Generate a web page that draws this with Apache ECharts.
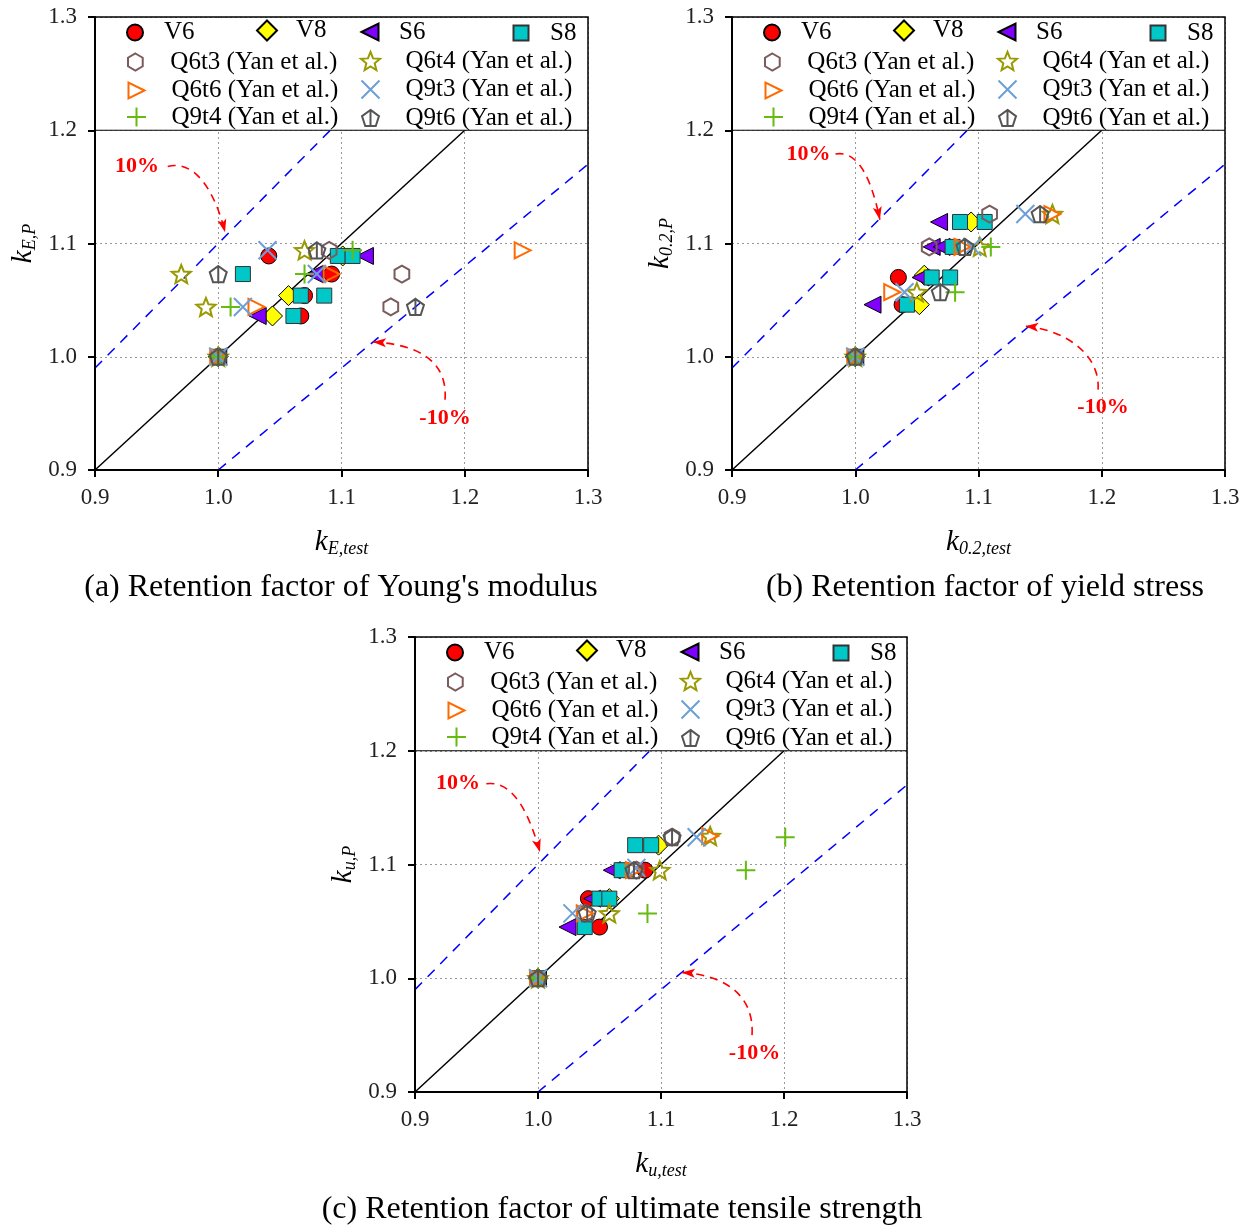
<!DOCTYPE html>
<html><head><meta charset="utf-8">
<script src="https://cdn.jsdelivr.net/npm/echarts@6/dist/echarts.min.js"></script>
<style>html,body{margin:0;padding:0;background:#fff}#c{width:1253px;height:1228px}</style>
</head><body><div id="c"></div>
<script>
// ---------------- data ----------------
const seriesNames = ['V6','V8','S6','S8','Q6t3 (Yan et al.)','Q6t4 (Yan et al.)','Q6t6 (Yan et al.)','Q9t3 (Yan et al.)','Q9t4 (Yan et al.)','Q9t6 (Yan et al.)'];
const axisTicks = [0.9, 1.0, 1.1, 1.2, 1.3];
const panelTitles = ["(a) Retention factor of Young's modulus", "(b) Retention factor of yield stress", "(c) Retention factor of ultimate tensile strength"];
const xNames = ['E,test', '0.2,test', 'u,test'];
const yNames = ['E,P', '0.2,P', 'u,P'];

// panel (a) k_E
const V6_a   = [[1,1],[1.041,1.089],[1.070,1.054],[1.067,1.036],[1.092,1.073]];
const V8_a   = [[1,1],[1.044,1.036],[1.057,1.054],[1.101,1.089]];
const S6_a   = [[1,1],[1.032,1.036],[1.078,1.073],[1.119,1.089]];
const S8_a   = [[1,1],[1.020,1.073],[1.061,1.036],[1.067,1.054],[1.086,1.054],[1.097,1.089],[1.109,1.089]];
const Q6t3_a = [[1,1],[1.090,1.094],[1.149,1.073],[1.140,1.044]];
const Q6t4_a = [[1,1],[0.970,1.073],[0.990,1.044],[1.070,1.094]];
const Q6t6_a = [[1,1],[1.031,1.044],[1.092,1.073],[1.247,1.094]];
const Q9t3_a = [[1,1],[1.040,1.094],[1.020,1.044],[1.080,1.073]];
const Q9t4_a = [[1,1],[1.010,1.044],[1.070,1.073],[1.109,1.094]];
const Q9t6_a = [[1,1],[1.000,1.073],[1.080,1.094],[1.160,1.044]];

// panel (b) k_0.2
const V6_b   = [[1,1],[1.035,1.070],[1.038,1.046]];
const V8_b   = [[1,1],[1.052,1.046],[1.056,1.072],[1.094,1.119]];
const S6_b   = [[1,1],[1.014,1.046],[1.053,1.070],[1.068,1.119],[1.062,1.097],[1.070,1.097]];
const S8_b   = [[1,1],[1.042,1.046],[1.062,1.070],[1.077,1.070],[1.085,1.119],[1.105,1.119],[1.079,1.097]];
const Q6t3_b = [[1,1],[1.060,1.097],[1.109,1.126]];
const Q6t4_b = [[1,1],[1.050,1.057],[1.101,1.097],[1.160,1.126]];
const Q6t6_b = [[1,1],[1.030,1.057],[1.087,1.097],[1.160,1.126]];
const Q9t3_b = [[1,1],[1.040,1.057],[1.095,1.097],[1.138,1.126]];
const Q9t4_b = [[1,1],[1.081,1.057],[1.110,1.097]];
const Q9t6_b = [[1,1],[1.069,1.057],[1.089,1.097],[1.150,1.126]];

// panel (c) k_u
const V6_c   = [[1,1],[1.041,1.070],[1.087,1.095],[1.050,1.045]];
const V8_c   = [[1,1],[1.098,1.117],[1.058,1.070]];
const S6_c   = [[1,1],[1.024,1.045],[1.060,1.095],[1.044,1.070]];
const S8_c   = [[1,1],[1.038,1.045],[1.050,1.070],[1.058,1.070],[1.068,1.095],[1.079,1.117],[1.092,1.117]];
const Q6t3_c = [[1,1],[1.038,1.057],[1.080,1.095],[1.109,1.124]];
const Q6t4_c = [[1,1],[1.058,1.057],[1.099,1.095],[1.140,1.125]];
const Q6t6_c = [[1,1],[1.038,1.057],[1.078,1.095],[1.140,1.125]];
const Q9t3_c = [[1,1],[1.028,1.057],[1.080,1.097],[1.129,1.124]];
const Q9t4_c = [[1,1],[1.089,1.057],[1.169,1.095],[1.201,1.124]];
const Q9t6_c = [[1,1],[1.040,1.057],[1.078,1.095],[1.109,1.124]];

// reference lines: 1:1, +10%, -10%
const line11    = [[0.9,0.9],[1.2,1.2]];
const linePlus  = [[0.9,0.99],[1.0909,1.2]];
const lineMinus = [[1.0,0.9],[1.3,1.17]];

const panelData = [
  [V6_a,V8_a,S6_a,S8_a,Q6t3_a,Q6t4_a,Q6t6_a,Q9t3_a,Q9t4_a,Q9t6_a],
  [V6_b,V8_b,S6_b,S8_b,Q6t3_b,Q6t4_b,Q6t6_b,Q9t3_b,Q9t4_b,Q9t6_b],
  [V6_c,V8_c,S6_c,S8_c,Q6t3_c,Q6t4_c,Q6t6_c,Q9t3_c,Q9t4_c,Q9t6_c]
];

// ---------------- styles / layout ----------------
const FONT = 'Liberation Serif';
const hexPath  = 'path://M5,0L9.33,2.5L9.33,7.5L5,10L0.67,7.5L0.67,2.5Z';
const starPath = 'path://M5,0L6.29,3.22L9.76,3.45L7.09,5.68L7.94,9.05L5,7.2L2.06,9.05L2.91,5.68L0.24,3.45L3.71,3.22Z';
const pentPath = 'path://M5,0L9.76,3.45L7.94,9.05L2.06,9.05L0.24,3.45ZM5,0L5,9.05';
const sym = [
  {symbol:'circle', size:16, fill:'#FF0000', stroke:'#000', bw:1},
  {symbol:'path://M5,0L10,5L5,10L0,5Z', size:20, fill:'#FFFF00', stroke:'#000', bw:1},
  {symbol:'path://M0,5L10,0L10,10Z', size:17, fill:'#8000FF', stroke:'#000', bw:1},
  {symbol:'path://M0,0L10,0L10,10L0,10Z', size:15, fill:'#00C8C8', stroke:'#333', bw:1},
  {symbol:hexPath, size:17, fill:'none', stroke:'#7B5B5B', bw:2},
  {symbol:starPath, size:19, fill:'none', stroke:'#999900', bw:2},
  {symbol:'path://M10,5L0,0L0,10Z', size:16, fill:'none', stroke:'#FF6A00', bw:2},
  {symbol:'path://M0,0L10,10M10,0L0,10', size:18, fill:'none', stroke:'#6C9FD6', bw:2},
  {symbol:'path://M5,0L5,10M0,5L10,5', size:19, fill:'none', stroke:'#66BB11', bw:2},
  {symbol:pentPath, size:17, fill:'none', stroke:'#555555', bw:2}
];
const grids = [
  {left:95, top:17, width:493, height:453},
  {left:732, top:17, width:493, height:453},
  {left:415, top:637, width:492, height:455}
];
const titlePos = [[336,567],[980,567],[617,1189]];
const legendRowY = [11,41,69,97];
const legendColX0 = [39,171,274,425];
const legendColX1 = [39,273];

const notes = [
  {t1:[0.934,1.168], c1:[[0.959,1.168],[0.981,1.174],[0.997,1.147],[1.0055,1.110]],
   t2:[1.184,0.946], c2:[[1.184,0.962],[1.1864,0.995],[1.1637,1.011],[1.1256,1.013]]},
  {t1:[0.962,1.179], c1:[[0.984,1.179],[1.004,1.183],[1.014,1.152],[1.020,1.121]],
   t2:[1.201,0.955], c2:[[1.197,0.971],[1.199,1.002],[1.170,1.024],[1.138,1.027]]},
  {t1:[0.935,1.171], c1:[[0.958,1.171],[0.981,1.174],[0.993,1.143],[1.0016,1.111]],
   t2:[1.176,0.934], c2:[[1.174,0.950],[1.176,0.985],[1.152,1.003],[1.117,1.005]]}
];

function rich(sub){
  return '{i|k}{s|' + sub + '}';
}
const richStyle = {
  i:{fontFamily:FONT, fontStyle:'italic', fontSize:29, color:'#000', lineHeight:32},
  s:{fontFamily:FONT, fontStyle:'italic', fontSize:18, color:'#000', lineHeight:16, verticalAlign:'bottom'}
};

const option = {
  backgroundColor:'#fff',
  animation:false,
  title: panelTitles.map((t,i)=>({text:t, left:titlePos[i][0], top:titlePos[i][1], textAlign:'center',
    textStyle:{fontFamily:FONT, fontSize:32, fontWeight:'normal', color:'#000'}})),
  grid: grids.map(g=>Object.assign({show:false}, g)),
  xAxis: grids.map((g,i)=>({
    type:'value', gridIndex:i, min:0.9, max:1.3, interval:0.1,
    name: rich(xNames[i]), nameLocation:'middle', nameGap:56, nameTextStyle:{rich:richStyle},
    axisLine:{show:true, onZero:false, lineStyle:{color:'#000', width:2}},
    axisTick:{show:true, length:7, lineStyle:{color:'#000', width:2}},
    axisLabel:{fontFamily:FONT, fontSize:23, color:'#222', margin:16, formatter:v=>v.toFixed(1)},
    splitLine:{show:true, lineStyle:{type:[2,3], color:'#999', width:1}}
  })),
  yAxis: grids.map((g,i)=>({
    type:'value', gridIndex:i, min:0.9, max:1.3, interval:0.1,
    name: rich(yNames[i]), nameLocation:'middle', nameGap:56, nameTextStyle:{rich:richStyle},
    axisLine:{show:true, onZero:false, lineStyle:{color:'#000', width:2}},
    axisTick:{show:true, length:7, lineStyle:{color:'#000', width:2}},
    axisLabel:{fontFamily:FONT, fontSize:23, color:'#222', margin:18, formatter:v=>v.toFixed(1)},
    splitLine:{show:true, lineStyle:{type:[2,3], color:'#999', width:1}}
  })),
  legend: [],
  series: []
};

grids.forEach((g,p)=>{
  option.series.push({type:'line', xAxisIndex:p, yAxisIndex:p, data:line11, symbol:'none', z:1, silent:true,
    lineStyle:{color:'#000', width:1.5}});
  option.series.push({type:'line', xAxisIndex:p, yAxisIndex:p, data:linePlus, symbol:'none', z:1, silent:true,
    lineStyle:{color:'#0000FF', width:1.5, type:[10,8]}});
  option.series.push({type:'line', xAxisIndex:p, yAxisIndex:p, data:lineMinus, symbol:'none', z:1, silent:true,
    lineStyle:{color:'#0000FF', width:1.5, type:[10,8]}});
  seriesNames.forEach((n,i)=>{
    const s = sym[i];
    option.series.push({type:'scatter', name:n, xAxisIndex:p, yAxisIndex:p, data:panelData[p][i],
      symbol:s.symbol, symbolSize:s.size, symbolKeepAspect:true, z:2,
      itemStyle:{color:s.fill, borderColor:s.stroke, borderWidth:s.bw, opacity:1}});
    let row, cx, gap;
    if (i<4){ row=0; cx=legendColX0[i]; gap=29; }
    else { row = 1 + Math.floor((i-4)/2); cx = legendColX1[(i-4)%2]; gap=35; }
    const sz = s.size;
    option.legend.push({data:[n], left:g.left+cx-sz/2, top:g.top+legendRowY[row]-sz/2, padding:0,
      itemWidth:sz, itemHeight:sz, z:6, selectedMode:false,
      textStyle:{fontFamily:FONT, fontSize:25, color:'#000', padding:[2,0,0,gap - sz/2 - 5]}});
  });
});

const chart = echarts.init(document.getElementById('c'));
chart.setOption(option);

// ---------- overlays: legend box, frame, annotations ----------
const graphics = [];
grids.forEach((g,p)=>{
  const a = chart.convertToPixel({gridIndex:p},[0.9,1.3]);
  const b = chart.convertToPixel({gridIndex:p},[1.3,1.2]);
  const c0 = chart.convertToPixel({gridIndex:p},[1.3,0.9]);
  graphics.push({type:'rect', z:3, silent:true,
    shape:{x:a[0]+1, y:a[1]+1, width:b[0]-a[0]-2, height:b[1]-a[1]-1}, style:{fill:'#fff'}});
  graphics.push({type:'line', z:3, silent:true,
    shape:{x1:a[0], y1:b[1], x2:b[0], y2:b[1]}, style:{stroke:'#000', lineWidth:1.2}});
  graphics.push({type:'rect', z:3, silent:true,
    shape:{x:a[0], y:a[1], width:c0[0]-a[0], height:c0[1]-a[1]}, style:{fill:null, stroke:'#000', lineWidth:1.5}});
  const nt = notes[p];
  [['10%',nt.t1,nt.c1],['-10%',nt.t2,nt.c2]].forEach(([txt,tp,c])=>{
    const t = chart.convertToPixel({gridIndex:p}, tp);
    graphics.push({type:'text', z:3, silent:true, x:t[0], y:t[1],
      style:{text:txt, fill:'#FF0000', font:'bold 22px "Liberation Serif"', align:'center', verticalAlign:'middle'}});
    const P = c.map(q=>chart.convertToPixel({gridIndex:p}, q));
    graphics.push({type:'bezierCurve', z:3, silent:true,
      shape:{x1:P[0][0], y1:P[0][1], cpx1:P[1][0], cpy1:P[1][1], cpx2:P[2][0], cpy2:P[2][1], x2:P[3][0], y2:P[3][1]},
      style:{stroke:'#FF0000', lineWidth:1.6, lineDash:[8,6], fill:null}});
    const dx = P[3][0]-P[2][0], dy = P[3][1]-P[2][1];
    const L = Math.hypot(dx,dy), ux = dx/L, uy = dy/L;
    const tip = P[3], len = 13, hw = 4.5;
    const bx = tip[0]-ux*len, by = tip[1]-uy*len;
    graphics.push({type:'polygon', z:3, silent:true,
      shape:{points:[[tip[0],tip[1]],[bx-uy*hw, by+ux*hw],[bx+ux*3, by+uy*3],[bx+uy*hw, by-ux*hw]]},
      style:{fill:'#FF0000'}});
  });
});
chart.setOption({graphic:graphics});
</script>
</body></html>
